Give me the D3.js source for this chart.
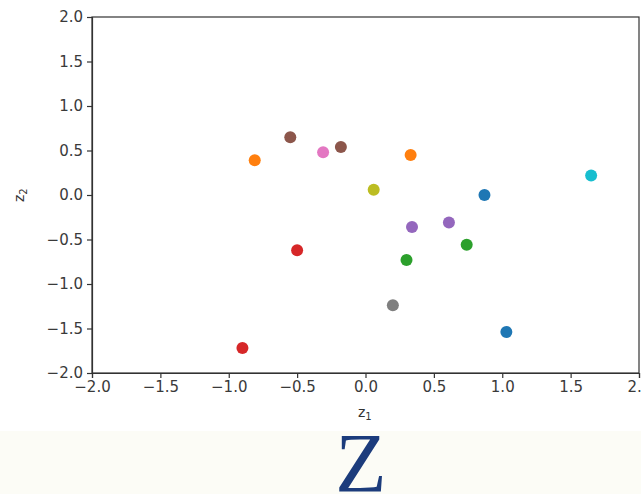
<!DOCTYPE html>
<html>
<head>
<meta charset="utf-8">
<script src="https://cdn.jsdelivr.net/npm/d3@7"></script>
<style>
	body { margin: 0; background: #fff; }
	svg { display: block; }
</style>
</head>
<body>
<svg id="chart" width="641" height="494"></svg>
<script>

// latent points, one colour each (matplotlib tab10 order)
var z1 = [-0.55, -0.81, -0.31, -0.18, 0.33, 0.06, 0.87, 1.65, 0.34, 0.61, 0.74, 0.30, -0.50, 0.20, 1.03, -0.90];
var z2 = [0.65, 0.39, 0.48, 0.54, 0.45, 0.06, 0.00, 0.22, -0.36, -0.31, -0.56, -0.73, -0.62, -1.24, -1.54, -1.72];
var cols = ["#8c564b", "#ff7f0e", "#e377c2", "#8c564b", "#ff7f0e", "#bcbd22", "#1f77b4", "#17becf",
	"#9467bd", "#9467bd", "#2ca02c", "#2ca02c", "#d62728", "#7f7f7f", "#1f77b4", "#d62728"];
var ticks = [-2.0, -1.5, -1.0, -0.5, 0.0, 0.5, 1.0, 1.5, 2.0];

var svg = d3.select("#chart");

const margin = { top: 17, left: 92 },
	width = 547,
	height = 356;

// lower strip is a slightly off-white slide background
svg.append("rect")
	.attr("x", 0).attr("y", 431).attr("width", 641).attr("height", 63)
	.attr("fill", "#fcfcf6");

var g = svg.append("g")
	.attr("transform", `translate(${margin.left},${margin.top})`);

var x = d3.scaleLinear([-2, 2], [0, width]);
var y = d3.scaleLinear([-2, 2], [height, 0]);

var fmt = d3.format(".1f");
var lab = d => fmt(d).replace("-", "\u2212");

var xaxis = d3.axisBottom(x).tickValues(ticks).tickFormat(lab).tickSize(5).tickPadding(3);
var yaxis = d3.axisLeft(y).tickValues(ticks).tickFormat(lab).tickSize(5).tickPadding(4);

g.append("g").attr("class", "xaxis")
	.attr("transform", `translate(0,${height})`)
	.call(xaxis);
g.append("g").attr("class", "yaxis")
	.call(yaxis);

// frame
g.append("rect")
	.attr("width", width).attr("height", height)
	.attr("fill", "none").attr("stroke", "#333").attr("stroke-width", 1.2);

g.selectAll(".domain").attr("stroke", "#333").attr("stroke-width", 1.2);
g.selectAll(".tick line").attr("stroke", "#333").attr("stroke-width", 1.2);
g.selectAll(".tick text")
	.attr("fill", "#3a3a3a")
	.style("font-family", "DejaVu Sans")
	.style("font-size", "15px");

g.selectAll(".dot")
	.data(z1.map((d, i) => ({ a: d, b: z2[i], c: cols[i] })))
	.join("circle")
	.attr("class", "dot")
	.attr("cx", d => x(d.a))
	.attr("cy", d => y(d.b))
	.attr("r", 6)
	.attr("fill", d => d.c);

// axis labels
var xl = svg.append("text")
	.attr("x", 358).attr("y", 417)
	.style("font-family", "DejaVu Sans").style("font-size", "14px").attr("fill", "#333");
xl.append("tspan").text("z");
xl.append("tspan").attr("font-size", "10px").attr("dy", 3).text("1");

var yl = svg.append("text")
	.attr("transform", "translate(24,202) rotate(-90)")
	.style("font-family", "DejaVu Sans").style("font-size", "14px").attr("fill", "#333");
yl.append("tspan").text("z");
yl.append("tspan").attr("font-size", "10px").attr("dy", 3).text("2");

// big slide letter
svg.append("text")
	.attr("x", 361).attr("y", 492)
	.attr("text-anchor", "middle")
	.style("font-family", "Liberation Serif")
	.style("font-size", "84px")
	.attr("fill", "#1c3c7c")
	.text("Z");

</script>
</body>
</html>
